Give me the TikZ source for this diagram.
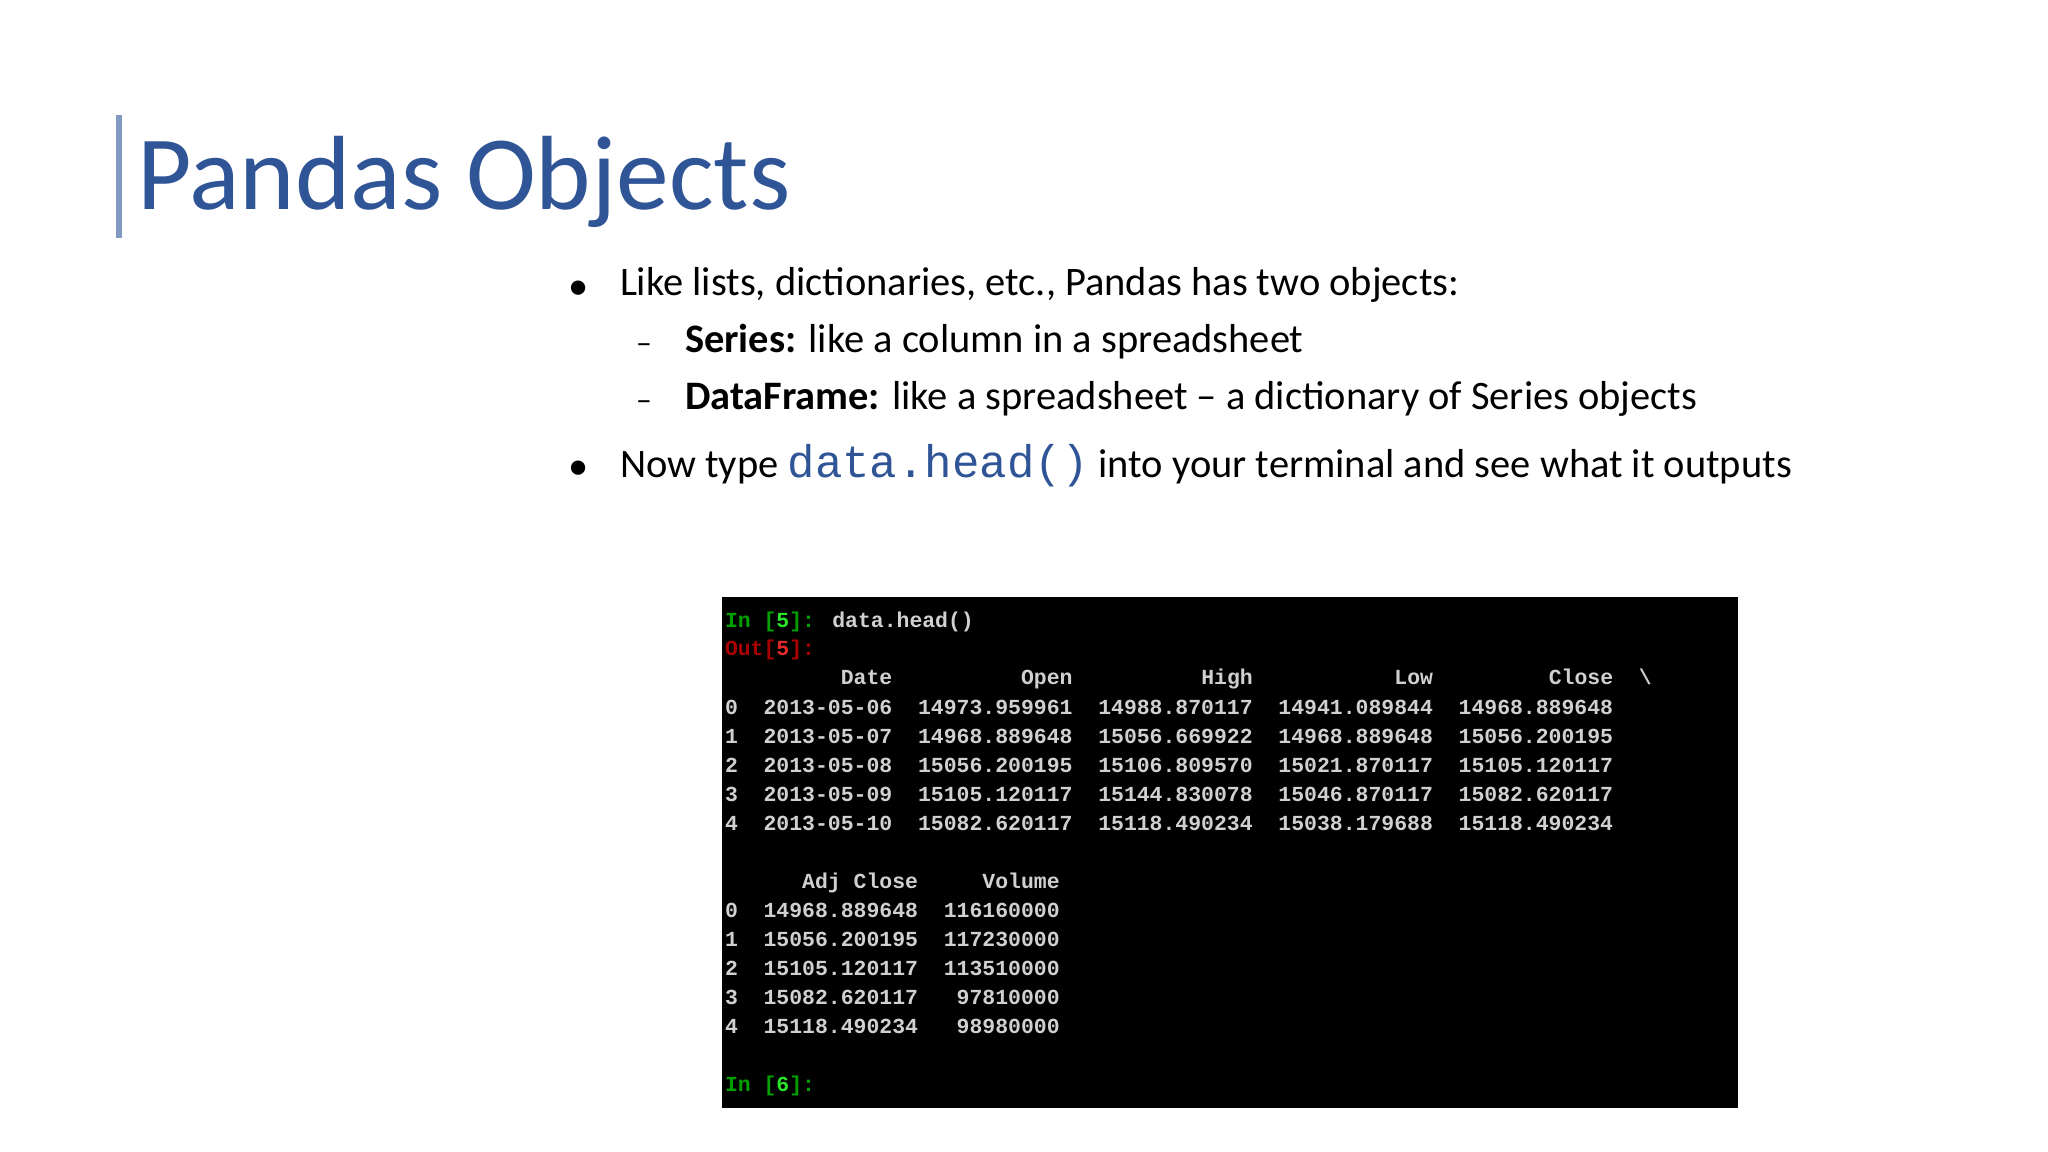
\documentclass[tikz,border=0pt]{standalone}
\usepackage{fontspec}
\setmainfont{Carlito}
\setmonofont{Liberation Mono}
\newfontfamily\termfont{Liberation Mono}[BoldFont={Liberation Mono Bold}]
\usetikzlibrary{positioning}
\definecolor{titleblue}{RGB}{47,85,151}
\definecolor{termgray}{RGB}{208,208,208}
\definecolor{termgreen}{RGB}{0,160,0}
\definecolor{termlime}{RGB}{40,230,40}
\definecolor{termred}{RGB}{170,0,0}
\definecolor{termpink}{RGB}{230,40,40}
\newcommand{\inprompt}[1]{\textcolor{termgreen}{In [}\textcolor{termlime}{#1}\textcolor{termgreen}{]:}}
\begin{document}
\begin{tikzpicture}[x=0.01cm,y=-0.01cm,
    every node/.style={inner sep=0pt,outer sep=0pt},
    bodytext/.style={anchor=base west,font=\fontsize{11.5}{14}\selectfont},
    termline/.style={anchor=base west,text=termgray,font=\termfont\bfseries\fontsize{6.1}{7}\selectfont}]
    \useasboundingbox (0,0) rectangle (2048,1152);
    %% title
    \fill[titleblue!60] (116,115) rectangle (122,238);
    \node (title) [anchor=base west,text=titleblue,font=\fontsize{30}{36}\selectfont] at (137,210) {Pandas Objects};
    %% bullets
    \node (b1) [bodytext] at (568,300) {\textbullet};
    \node (t1) [bodytext] at (620,296) {Like lists, dictionaries, etc., Pandas has two objects:};
    \node (d1) [bodytext] at (636,354) {\small --};
    \node (t2) [bodytext] at (685,353) {\textbf{Series:} like a column in a spreadsheet};
    \node (d2) [bodytext] at (636,411) {\small --};
    \node (t3) [bodytext] at (685,410) {\textbf{DataFrame:} like a spreadsheet -- a dictionary of Series objects};
    \node (b2) [bodytext] at (568,480) {\textbullet};
    \node (t4) [bodytext] at (620,478) {Now type \textcolor{titleblue}{\fontsize{13}{14}\selectfont\ttfamily data.head()} into your terminal and see what it outputs};
    %% terminal
    \fill[black] (722,597) rectangle (1738,1108);
    \node (l1) [termline] at (725,627) {\inprompt{5} data.head()};
    \node (l2) [termline] at (725,656) {\textcolor{termred}{Out[}\textcolor{termpink}{5}\textcolor{termred}{]:}};
    \node (l3) [termline] at (725,685) {~~~~~~~~~Date~~~~~~~~~~Open~~~~~~~~~~High~~~~~~~~~~~Low~~~~~~~~~Close~~\textbackslash};
    \node (l4) [termline] at (725,714) {0~~2013-05-06~~14973.959961~~14988.870117~~14941.089844~~14968.889648};
    \node (l5) [termline] at (725,743) {1~~2013-05-07~~14968.889648~~15056.669922~~14968.889648~~15056.200195};
    \node (l6) [termline] at (725,772) {2~~2013-05-08~~15056.200195~~15106.809570~~15021.870117~~15105.120117};
    \node (l7) [termline] at (725,801) {3~~2013-05-09~~15105.120117~~15144.830078~~15046.870117~~15082.620117};
    \node (l8) [termline] at (725,830) {4~~2013-05-10~~15082.620117~~15118.490234~~15038.179688~~15118.490234};
    \node (m1) [termline] at (725,888) {~~~~~~Adj Close~~~~~Volume};
    \node (m2) [termline] at (725,917) {0~~14968.889648~~116160000};
    \node (m3) [termline] at (725,946) {1~~15056.200195~~117230000};
    \node (m4) [termline] at (725,975) {2~~15105.120117~~113510000};
    \node (m5) [termline] at (725,1004) {3~~15082.620117~~~97810000};
    \node (m6) [termline] at (725,1033) {4~~15118.490234~~~98980000};
    \node (l9) [termline] at (725,1091) {\inprompt{6}};
\end{tikzpicture}
\end{document}
